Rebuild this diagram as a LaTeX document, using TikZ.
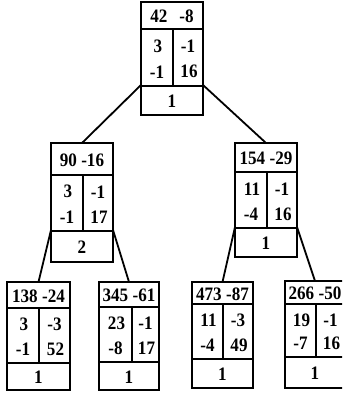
\documentclass[tikz,border=0pt]{standalone}
\usepackage{fontspec}
\setmainfont{Liberation Serif}[FakeStretch=0.9]
\tikzset{
  tbox/.style={draw, line width=2pt, inner sep=0pt, outer sep=0pt, anchor=north west},
  rulel/.style={line width=2pt},
  conn/.style={line width=1.8pt},
  num/.style={font=\bfseries\fontsize{19}{19}\selectfont, inner sep=0pt},
}
\begin{document}
\begin{tikzpicture}[x=1pt,y=-1pt]
\clip (0,0) rectangle (342,395);
\foreach \n/\l/\t/\r/\hb/\mb/\b/\d/\H/\A/\B/\C/\D/\E in {
  t/141/2/203/29/86/115/173/{42\hspace{12pt}-8}/3/-1/-1/16/1,
  ml/51/143/113/175/231/262/83/90 -16/3/-1/-1/17/2,
  mr/235/143/297/172/228/257/267/154 -29/11/-1/-4/16/1,
  bl/7/282/70/308/363/390/39/138 -24/3/-3/-1/52/1,
  b2/99/282/159/307/362/390/132/345 -61/23/-1/-8/17/1,
  b3/192/282/253/304/359/388/223/473 -87/11/-3/-4/49/1,
  b4/285/281/345/304/357/388/316/266 -50/19/-1/-7/16/1}{
  \node[tbox, minimum width={(\r-\l)*1pt}, minimum height={(\b-\t)*1pt}] (\n) at (\l,\t) {};
  \draw[rulel] (\l,\hb) -- (\r,\hb) (\l,\mb) -- (\r,\mb) (\d,\hb) -- (\d,\mb);
  \node[num] (\n-h) at ({(\l+\r)/2},{(\t+\hb)/2+1}) {\H};
  \node[num] (\n-a) at ({(\l+\d)/2+1},{\hb+0.3*(\mb-\hb)}) {\A};
  \node[num] (\n-b) at ({(\d+\r)/2},{\hb+0.3*(\mb-\hb)}) {\B};
  \node[num] (\n-c) at ({(\l+\d)/2},{\hb+0.75*(\mb-\hb)}) {\C};
  \node[num] (\n-d) at ({(\d+\r)/2+1},{\hb+0.75*(\mb-\hb)}) {\D};
  \node[num] (\n-e) at ({(\l+\r)/2},{(\mb+\b)/2+1}) {\E};
  \coordinate (\n-lc) at (\l,{\mb-1});
  \coordinate (\n-rc) at (\r,{\mb-1});
}
\draw[conn] (t-lc) -- (ml.north);
\draw[conn] (t-rc) -- (mr.north);
\draw[conn] (ml-lc) -- (bl.north);
\draw[conn] (ml-rc) -- (b2.north);
\draw[conn] (mr-lc) -- (b3.north);
\draw[conn] (mr-rc) -- (b4.north);
\end{tikzpicture}
\end{document}
